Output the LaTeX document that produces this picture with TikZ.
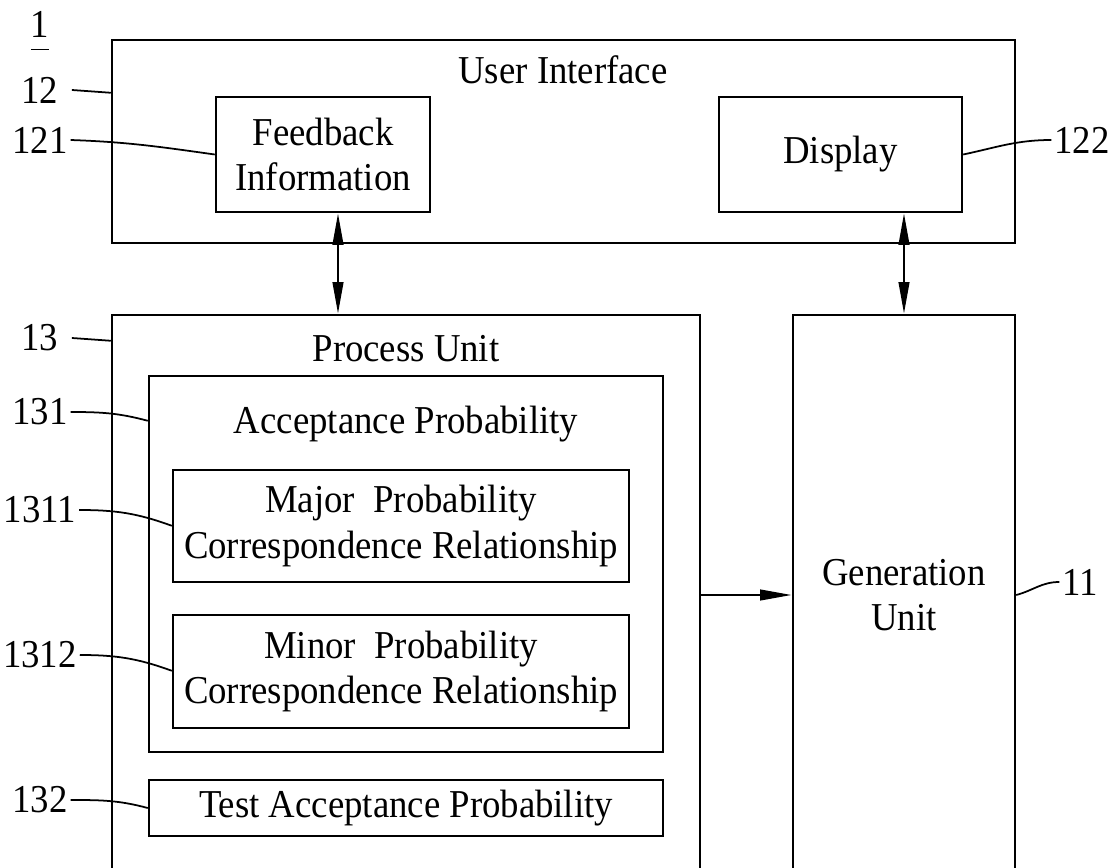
\documentclass[tikz,border=0pt]{standalone}
\usepackage{fontspec}
\setmainfont{Liberation Serif}[FakeStretch=0.93]
\usetikzlibrary{arrows.meta,fit,calc}

\begin{document}
\begin{tikzpicture}[x=0.02cm,y=0.02cm]
% ----- columns (x) -----
\def\xOutL{112}   % user interface / process unit left
\def\xOutR{1015}  % user interface / generation unit right
\def\xAccL{149}   % acceptance box
\def\xAccR{663}
\def\xRelL{173}   % correspondence boxes
\def\xRelR{629}
\def\xLab{40}     % reference numerals, left side

% ----- rows (y) -----
\def\yUiT{827}
\def\yUiB{624}
\def\yUnitT{552}  % process unit & generation unit top
\def\yUnitB{-8}   % (runs off the page)

% styles
\tikzset{
  txt/.style={font=\fontsize{22.5}{26}\selectfont,align=center},
  box/.style={draw,line width=1.4pt,inner sep=0pt},
  ttl/.style={txt,anchor=base},
  lab/.style={txt,inner sep=1.5pt},
  lead/.style={line width=1pt},
  arr/.style={line width=1.4pt,-{Triangle[length=18pt,width=6pt]}},
  arrtwo/.style={line width=1.4pt,{Triangle[length=18pt,width=6pt]}-{Triangle[length=18pt,width=6pt]}}
}

\useasboundingbox (0,0) rectangle (1110,867);
\clip (0,0) rectangle (1110,867);

% ===== user interface =====
\node[box,fit={(\xOutL,\yUiT) (\xOutR,\yUiB)}] (ui) {};
\node[ttl] (uiT) at (563,783) {User Interface};
\node[box,fit={(216,770) (430,655)}] (fb) {};
\node[txt] (fbT) at (fb) {Feedback\\Information};
\node[box,fit={(719,770) (962,655)}] (disp) {};
\node[txt] (dispT) at (disp) {Display};

% ===== process unit =====
\node[box,fit={(\xOutL,\yUnitT) (700,\yUnitB)}] (pu) {};
\node[ttl] (puT) at (406,505) {Process Unit};
\node[box,fit={(\xAccL,491) (\xAccR,115)}] (acc) {};
\node[ttl] (accT) at (406,434) {Acceptance Probability};
\node[box,fit={(\xRelL,397) (\xRelR,285)}] (major) {};
\node[txt] (majorT) at (major) {Major~ Probability\\Correspondence Relationship};
\node[box,fit={(\xRelL,252) (\xRelR,139)}] (minor) {};
\node[txt] (minorT) at (minor) {Minor~ Probability\\Correspondence Relationship};
\node[box,fit={(\xAccL,87) (\xAccR,31)}] (test) {};
\node[txt] (testT) at (test) {Test Acceptance Probability};

% ===== generation unit =====
\node[box,fit={(793,\yUnitT) (\xOutR,\yUnitB)}] (gen) {};
\node[txt] (genT) at (gen) {Generation\\Unit};

% ----- connectors -----
\coordinate (fbarr) at (338,0);
\draw[arrtwo] (fb.south -| fbarr) -- (pu.north -| fbarr);
\draw[arrtwo] (disp.south -| gen.north) -- (gen.north);
\draw[arr] (pu.east) -- (gen.west);

% ----- reference numerals -----
\node[lab,anchor=base] (fig) at (\xLab,829) {\underline{1\vphantom{y}}};
\node[lab] (l12) at (\xLab,777) {12};
\node[lab] (l121) at (\xLab,727) {121};
\node[lab] (l122) at (1082,727) {122};
\node[lab] (l13) at (\xLab,529) {13};
\node[lab] (l131) at (\xLab,455) {131};
\node[lab] (l1311) at (\xLab,357) {1311};
\node[lab] (l1312) at (\xLab,212) {1312};
\node[lab] (l132) at (\xLab,67) {132};
\node[lab] (l11) at (1080,285) {11};

% leaders
\draw[lead] ([xshift=6pt]l12.east) -- ($(ui.north west)+(0,-54)$);
\draw[lead] (l121.east) to[out=-2,in=172] (fb.west);
\draw[lead] (l122.west) to[out=180,in=12] (disp.east);
\draw[lead] ([xshift=6pt]l13.east) -- ($(pu.north west)+(0,-27)$);
\draw[lead] (l131.east) to[out=0,in=165] ($(acc.north west)+(0,-46)$);
\draw[lead] (l1311.east) to[out=0,in=160] ($(major.north west)+(0,-57)$);
\draw[lead] (l1312.east) to[out=0,in=160] ($(minor.north west)+(0,-57)$);
\draw[lead] (l132.east) to[out=0,in=165] (test.west);
\draw[lead] (l11.west) to[out=180,in=15] (gen.east);
\end{tikzpicture}
\end{document}
